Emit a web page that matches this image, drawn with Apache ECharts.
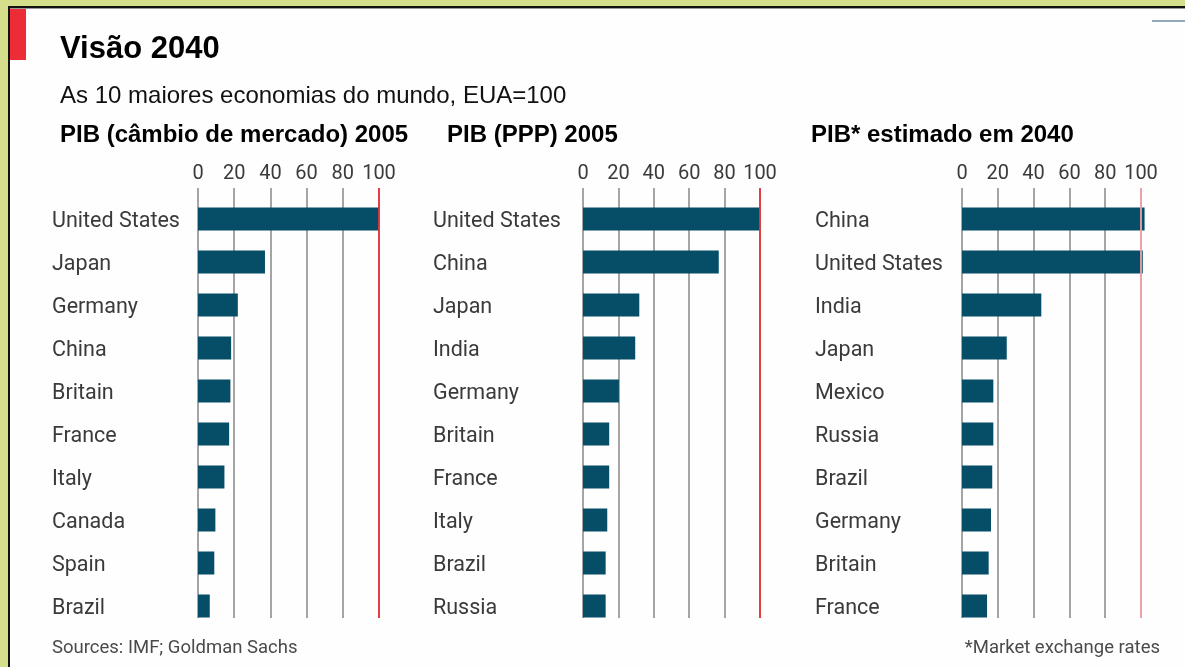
<!DOCTYPE html>
<html>
<head>
<meta charset="utf-8">
<script src="https://cdn.jsdelivr.net/npm/echarts@6/dist/echarts.min.js"></script>
<style>
  html, body { margin: 0; padding: 0; background: #d5de8b; }
  #chart { width: 1185px; height: 667px; }
</style>
</head>
<body>
<div id="chart"></div>
<script>
// ---- data ----
const panelTitles = ['PIB (câmbio de mercado) 2005', 'PIB (PPP) 2005', 'PIB* estimado em 2040'];
const cats1 = ['United States', 'Japan', 'Germany', 'China', 'Britain', 'France', 'Italy', 'Canada', 'Spain', 'Brazil'];
const vals1 = [100, 37, 22, 18.3, 17.9, 17.2, 14.6, 9.6, 9, 6.5];
const cats2 = ['United States', 'China', 'Japan', 'India', 'Germany', 'Britain', 'France', 'Italy', 'Brazil', 'Russia'];
const vals2 = [100, 76.7, 31.8, 29.5, 20.3, 14.8, 14.8, 13.7, 12.8, 12.8];
const cats3 = ['China', 'United States', 'India', 'Japan', 'Mexico', 'Russia', 'Brazil', 'Germany', 'Britain', 'France'];
const vals3 = [102, 101, 44.3, 25, 17.5, 17.5, 16.9, 16.2, 14.9, 14];
const tickValues = [0, 20, 40, 60, 80, 100];

// ---- layout ----
const panels = [
  { cats: cats1, vals: vals1, left: 198, width: 181, labelX: 52, titleX: 60, red: '#e8343c' },
  { cats: cats2, vals: vals2, left: 583, width: 177, labelX: 433, titleX: 447, red: '#e8343c' },
  { cats: cats3, vals: vals3, left: 962, width: 179, labelX: 815, titleX: 811, red: '#f3a3aa' }
];
const labelFont = 'Roboto';
const grids = [], xAxes = [], yAxes = [], series = [];
const tMin = tickValues[0], tMax = tickValues[tickValues.length - 1], tInt = tickValues[1] - tickValues[0];

panels.forEach((p, i) => {
  grids.push({ left: p.left, width: p.width, top: 188, height: 430 });   // reference lines + ticks
  grids.push({ left: p.left, width: p.width, top: 197.5, height: 430 }); // bars
  grids.push({ left: p.left, width: p.width, top: 200, height: 430 });   // category labels
  const gl = 3 * i, gb = 3 * i + 1, gc = 3 * i + 2;
  xAxes.push({
    gridIndex: gl, type: 'value', position: 'top', min: tMin, max: tMax, interval: tInt,
    axisLine: { show: false }, axisTick: { show: false },
    axisLabel: { color: '#3a3a3a', fontFamily: labelFont, fontSize: 20, margin: 4 },
    splitLine: { show: true, lineStyle: { color: '#8f8f8f', width: 1.6 } }
  });
  yAxes.push({ gridIndex: gl, type: 'value', min: 0, max: 1, show: false });
  xAxes.push({ gridIndex: gb, type: 'value', min: tMin, max: tMax, interval: tInt, show: false });
  yAxes.push({ gridIndex: gb, type: 'category', data: p.cats, inverse: true, show: false });
  xAxes.push({ gridIndex: gc, type: 'value', min: tMin, max: tMax, interval: tInt, show: false });
  yAxes.push({
    gridIndex: gc, type: 'category', data: p.cats, inverse: true,
    axisLine: { show: false }, axisTick: { show: false }, splitLine: { show: false },
    axisLabel: { color: '#3a3a3a', fontFamily: labelFont, fontSize: 21.5, align: 'left', margin: p.left - p.labelX }
  });
  series.push({
    type: 'line', xAxisIndex: gl, yAxisIndex: gl, data: [], silent: true,
    markLine: {
      silent: true, symbol: 'none', label: { show: false },
      lineStyle: { color: p.red, width: 1.8, type: 'solid' },
      data: [{ xAxis: tMax }]
    }
  });
  series.push({
    type: 'bar', xAxisIndex: gb, yAxisIndex: gb, data: p.vals, barWidth: 23, clip: false,
    itemStyle: { color: '#064d67' }, silent: true
  });
});

const graphic = [
  { type: 'rect', shape: { x: 10, y: 9, width: 1175, height: 658 }, style: { fill: '#fefefe' }, z: -10 },
  { type: 'rect', shape: { x: 8, y: 6, width: 1177, height: 2 }, style: { fill: '#111' } },
  { type: 'rect', shape: { x: 8, y: 8, width: 1177, height: 1 }, style: { fill: '#999' } },
  { type: 'rect', shape: { x: 8, y: 6, width: 2, height: 661 }, style: { fill: '#111' } },
  { type: 'rect', shape: { x: 10, y: 9, width: 16, height: 51 }, style: { fill: '#ec2d37' } },
  { type: 'rect', shape: { x: 1152, y: 20, width: 33, height: 2 }, style: { fill: '#8eaabb' } },
  { type: 'text', x: 60, y: 49, style: { text: 'Visão 2040', font: 'bold 31px "Liberation Sans", Arial, sans-serif', fill: '#000', verticalAlign: 'middle' } },
  { type: 'text', x: 60, y: 96, style: { text: 'As 10 maiores economias do mundo, EUA=100', font: '24px "Liberation Sans", Arial, sans-serif', fill: '#111', verticalAlign: 'middle' } },
  { type: 'text', x: 52, y: 648, style: { text: 'Sources: IMF; Goldman Sachs', font: '18.5px Roboto, sans-serif', fill: '#4a4a4a', verticalAlign: 'middle' } },
  { type: 'text', x: 1160, y: 648, style: { text: '*Market exchange rates', font: '18.5px Roboto, sans-serif', fill: '#4a4a4a', verticalAlign: 'middle', align: 'right' } }
];
panels.forEach((p, i) => {
  graphic.push({ type: 'text', x: p.titleX, y: 135, style: { text: panelTitles[i], font: 'bold 24px "Liberation Sans", Arial, sans-serif', fill: '#000', verticalAlign: 'middle' } });
});

const chart = echarts.init(document.getElementById('chart'));
chart.setOption({
  backgroundColor: '#d5de8b',
  animation: false,
  grid: grids,
  xAxis: xAxes,
  yAxis: yAxes,
  series: series,
  graphic: graphic
});
</script>
</body>
</html>
